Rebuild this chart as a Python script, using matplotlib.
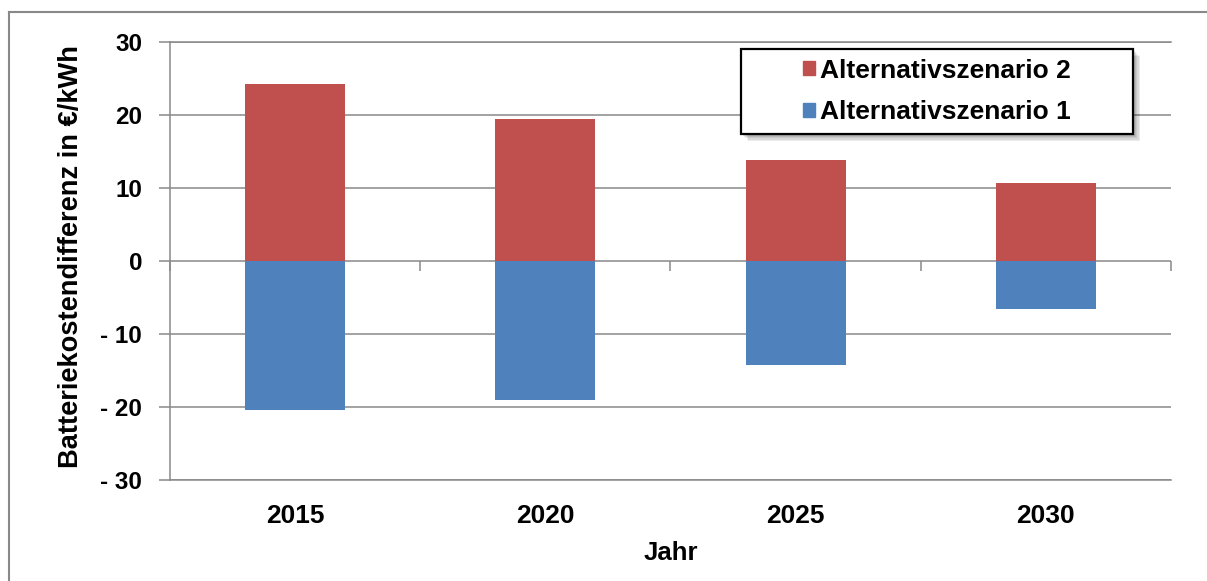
import matplotlib.pyplot as plt
from matplotlib.patches import Patch, Rectangle
import numpy as np

years = ["2015", "2020", "2025", "2030"]
szenario_2 = [24.2, 19.5, 13.9, 10.7]
szenario_1 = [-20.4, -19.0, -14.2, -6.6]
y_ticks = [-30, -20, -10, 0, 10, 20, 30]
y_labels = [f"- {abs(v)}" if v < 0 else str(v) for v in y_ticks]

red = "#C0504D"
blue = "#4F81BD"
gray = "#898989"

plt.rcParams['font.family'] = ['Liberation Sans', 'DejaVu Sans']
plt.rcParams['font.weight'] = 'bold'

W, H = 1207, 581
fig = plt.figure(figsize=(W / 100, H / 100), dpi=100)
ax = fig.add_axes([170 / W, 1 - 480 / H, 1001 / W, 438 / H])

x = np.arange(len(years))
ax.bar(x, szenario_2, width=0.4, color=red, zorder=2)
ax.bar(x, szenario_1, width=0.4, color=blue, zorder=2)

ax.set_xlim(-0.5, len(years) - 0.5)
ax.set_ylim(-30, 30)
ax.set_yticks(y_ticks, y_labels)
ax.set_xticks(x, years)
ax.yaxis.grid(True, color=gray, lw=1.1)
ax.set_axisbelow(True)

for s in ["top", "bottom", "left"]:
    ax.spines[s].set_color(gray)
    ax.spines[s].set_linewidth(1.1)
ax.spines["right"].set_visible(False)

ax.tick_params(axis="x", length=0, pad=17, labelsize=19)
ax.tick_params(axis="y", length=8, color=gray, width=1.1, pad=12, labelsize=17.5)

# category boundary ticks on the zero line
sec = ax.secondary_xaxis(0.5)
sec.set_alignment("bottom")
sec.set_xticks(np.arange(len(years) + 1) - 0.5)
sec.tick_params(direction="out", length=7, color=gray, width=1.1,
                labelbottom=False, labeltop=False)
for s in sec.spines.values():
    s.set_visible(False)

ax.set_ylabel("Batteriekostendifferenz in €/kWh", fontsize=19.6, fontweight="bold")
ax.yaxis.set_label_coords(-0.086, 0.511)
ax.set_xlabel("Jahr", fontsize=18.5, fontweight="bold")
ax.xaxis.set_label_coords(0.5, -0.139)

# legend box with soft shadow
lx0, ly0, lx1, ly1 = 741, 49, 1133, 134
for i, a in enumerate([0.08, 0.08, 0.08, 0.08, 0.08]):
    off = 2 + i * 1.2
    fig.patches.append(Rectangle(((lx0 + off) / W, 1 - (ly1 + off) / H),
                                 (lx1 - lx0) / W, (ly1 - ly0) / H,
                                 transform=fig.transFigure, facecolor="black",
                                 edgecolor="none", alpha=a, zorder=5))
fig.patches.append(Rectangle((lx0 / W, 1 - ly1 / H), (lx1 - lx0) / W, (ly1 - ly0) / H,
                             transform=fig.transFigure, facecolor="white",
                             edgecolor="black", lw=1.6, zorder=6))

handles = [Patch(color=red), Patch(color=blue)]
leg = fig.legend(handles, ["Alternativszenario 2", "Alternativszenario 1"],
                 loc="center", bbox_to_anchor=((lx0 + lx1) / 2 / W, 1 - (ly0 + ly1) / 2 / H),
                 frameon=False, prop={"size": 19, "weight": "bold"},
                 handlelength=0.45, handleheight=0.45, handletextpad=0.2,
                 labelspacing=0.66, borderpad=0)
leg.set_zorder(7)

# outer chart frame
fig.add_artist(plt.Line2D([9 / W, 1], [1 - 12 / H, 1 - 12 / H], transform=fig.transFigure,
                          color=gray, lw=1.5))
fig.add_artist(plt.Line2D([9 / W, 9 / W], [0, 1 - 12 / H], transform=fig.transFigure,
                          color=gray, lw=1.5))

fig.savefig("out.png", dpi=100)
